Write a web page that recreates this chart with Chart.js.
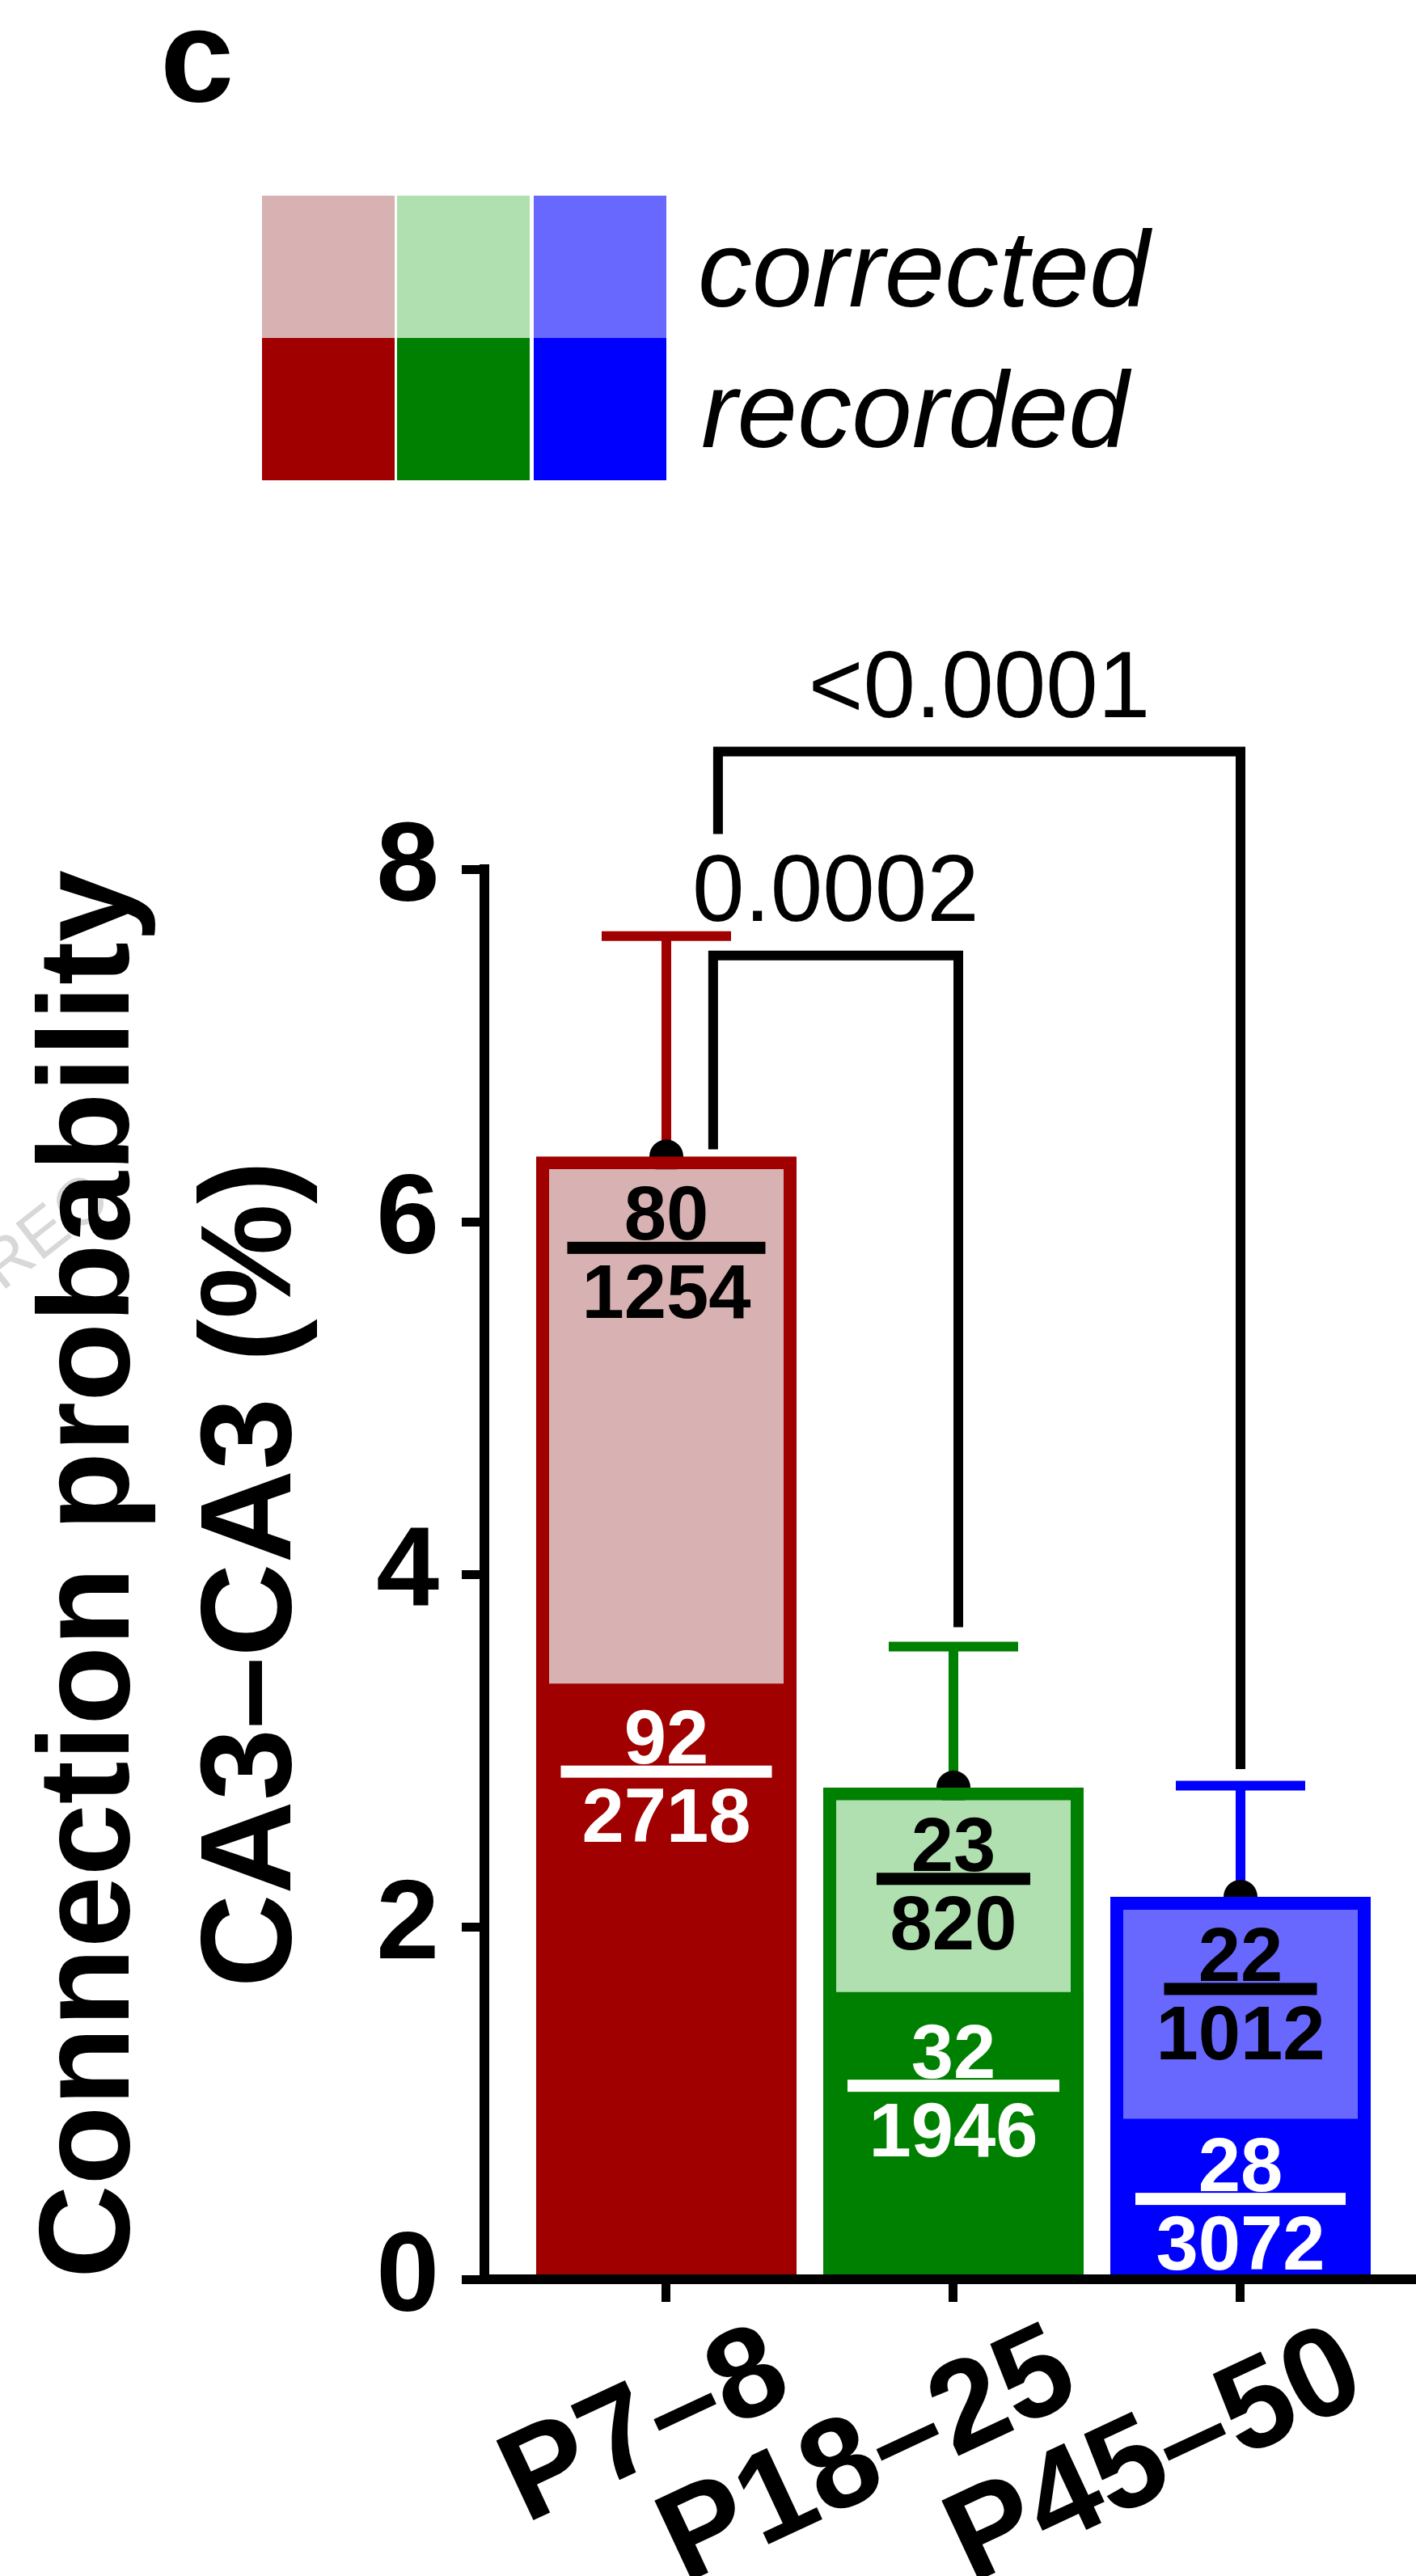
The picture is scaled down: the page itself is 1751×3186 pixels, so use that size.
<!DOCTYPE html>
<html>
<head>
<meta charset="utf-8">
<script src="https://cdn.jsdelivr.net/npm/chart.js"></script>
<style>
  html, body { margin: 0; padding: 0; background: #ffffff; }
  canvas { display: block; }
</style>
</head>
<body>
<canvas id="chart" width="1751" height="3186"></canvas>
<script>
// ---------------- data ----------------
const categories = ['P7–8', 'P18–25', 'P45–50'];
const corrected = [6.37, 2.79, 2.17];          // corrected connection probability (%)
const recorded = [3.38, 1.63, 0.91];           // recorded connection probability (%)
const errorUpper = [7.62, 3.59, 2.80];         // upper end of error bar (%)
const correctedConnected = [80, 23, 22];
const correctedTested = [1254, 820, 1012];
const recordedConnected = [92, 32, 28];
const recordedTested = [2718, 1946, 3072];
const yTicks = [0, 2, 4, 6, 8];
const pValues = ['0.0002', '<0.0001'];
const legendLabels = ['corrected', 'recorded'];
const panelLabel = 'c';
const yTitle = ['Connection probability', 'CA3–CA3 (%)'];
const watermark = 'REC';

// ---------------- styles / layout ----------------
const FONT = '"Liberation Sans", Arial, Helvetica, sans-serif';
const darkColors = ['#a00000', '#008000', '#0000ff'];
const lightColors = ['#d8b2b2', '#b0e0b0', '#6868ff'];
// bracket geometry in data units (x: category index, y: %)
const brackets = [
  { xl: 0.163, xr: 1.017, yTop: 7.51, yl: 6.41, yr: 3.70 },
  { xl: 0.180, xr: 2.000, yTop: 8.667, yl: 8.20, yr: 2.894 }
];
const corrLineW = [245, 190, 189];
const recLineW = [261, 262, 260];
const corrDrop = [113, 113, 114];
const recDrop = [109, 116, 99];

const decor = {
  id: 'decor',
  beforeDraw(chart) {
    const ctx = chart.ctx;
    ctx.save();
    ctx.fillStyle = '#ffffff';
    ctx.fillRect(0, 0, chart.width, chart.height);
    ctx.translate(2, 1598);
    ctx.rotate(-38 * Math.PI / 180);
    ctx.font = `82px ${FONT}`;
    ctx.fillStyle = '#d8d8d8';
    ctx.textBaseline = 'alphabetic';
    ctx.fillText(watermark, 0, 0);
    ctx.restore();
  },
  beforeDatasetsDraw(chart) {
    const ctx = chart.ctx, xs = chart.scales.x, ys = chart.scales.y;
    ctx.save();
    ctx.lineWidth = 12;
    ctx.lineCap = 'butt';
    categories.forEach((c, i) => {
      const x = xs.getPixelForValue(i);
      const yt = ys.getPixelForValue(errorUpper[i]);
      const yb = ys.getPixelForValue(corrected[i]);
      ctx.strokeStyle = darkColors[i];
      ctx.beginPath();
      ctx.moveTo(x, yt); ctx.lineTo(x, yb);
      ctx.moveTo(x - 80, yt); ctx.lineTo(x + 80, yt);
      ctx.stroke();
    });
    ctx.restore();
  },
  afterDatasetsDraw(chart) {
    const ctx = chart.ctx;
    const corrMeta = chart.getDatasetMeta(1);
    const recMeta = chart.getDatasetMeta(0);
    ctx.save();
    ctx.font = `bold 94px ${FONT}`;
    ctx.textAlign = 'center';
    ctx.textBaseline = 'alphabetic';
    const frac = (el, num, den, drop, w, color) => {
      const ly = el.y + drop;
      ctx.fillStyle = color;
      ctx.fillRect(el.x - w / 2, ly - 7.5, w, 15);
      ctx.fillText(String(num), el.x, ly - 10);
      ctx.fillText(String(den), el.x, ly + 87);
    };
    categories.forEach((c, i) => {
      frac(corrMeta.data[i], correctedConnected[i], correctedTested[i], corrDrop[i], corrLineW[i], '#000000');
      frac(recMeta.data[i], recordedConnected[i], recordedTested[i], recDrop[i], recLineW[i], '#ffffff');
    });
    ctx.restore();
  },
  afterDraw(chart) {
    const ctx = chart.ctx, xs = chart.scales.x, ys = chart.scales.y;
    ctx.save();
    // significance brackets
    ctx.strokeStyle = '#000000';
    ctx.lineWidth = 12;
    ctx.lineJoin = 'miter';
    ctx.lineCap = 'butt';
    ctx.fillStyle = '#000000';
    ctx.font = `116px ${FONT}`;
    ctx.textAlign = 'center';
    ctx.textBaseline = 'alphabetic';
    brackets.forEach((b, k) => {
      const xl = xs.getPixelForValue(b.xl), xr = xs.getPixelForValue(b.xr);
      const yt = ys.getPixelForValue(b.yTop);
      ctx.beginPath();
      ctx.moveTo(xl, ys.getPixelForValue(b.yl));
      ctx.lineTo(xl, yt);
      ctx.lineTo(xr, yt);
      ctx.lineTo(xr, ys.getPixelForValue(b.yr));
      ctx.stroke();
      ctx.fillText(pValues[k], (xl + xr) / 2, yt - 43);
    });
    // legend swatches
    const colX = [324, 491, 660];
    categories.forEach((c, i) => {
      ctx.fillStyle = lightColors[i];
      ctx.fillRect(colX[i], 242, 164, 176);
      ctx.fillStyle = darkColors[i];
      ctx.fillRect(colX[i], 418, 164, 176);
    });
    ctx.fillStyle = '#000000';
    ctx.textAlign = 'left';
    ctx.font = `italic 134px ${FONT}`;
    ctx.fillText(legendLabels[0], 863, 379);
    ctx.fillText(legendLabels[1], 867, 553);
    // panel label
    ctx.font = `bold 164px ${FONT}`;
    ctx.fillText(panelLabel, 198, 125);
    ctx.restore();
  }
};

const gridOpts = {
  drawOnChartArea: false, drawTicks: true, tickLength: 28, offset: false,
  tickWidth: 11, tickColor: '#000000', color: '#000000', lineWidth: 11
};

new Chart(document.getElementById('chart'), {
  type: 'bar',
  data: {
    datasets: [
      {
        label: legendLabels[1],
        data: categories.map((c, i) => ({ x: i, y: recorded[i] })),
        backgroundColor: darkColors,
        borderWidth: 0,
        grouped: false,
        categoryPercentage: 1,
        barPercentage: 0.907,
        order: 1
      },
      {
        label: legendLabels[0],
        data: categories.map((c, i) => ({ x: i, y: corrected[i] })),
        backgroundColor: lightColors,
        borderColor: darkColors,
        borderWidth: 16,
        borderSkipped: 'bottom',
        grouped: false,
        categoryPercentage: 1,
        barPercentage: 0.907,
        order: 2
      },
      {
        type: 'scatter',
        label: 'mean',
        data: categories.map((c, i) => ({ x: i, y: corrected[i] })),
        pointRadius: 21,
        pointBackgroundColor: '#000000',
        pointBorderWidth: 0,
        order: 3
      }
    ]
  },
  options: {
    responsive: false,
    animation: false,
    devicePixelRatio: 1,
    layout: { autoPadding: false, padding: { top: 1075, left: 0, right: 0, bottom: 0 } },
    plugins: { legend: { display: false }, tooltip: { enabled: false }, title: { display: false } },
    scales: {
      x: {
        type: 'linear',
        offset: false,
        min: -0.6338,
        max: 2.6113,
        afterBuildTicks: s => { s.ticks = categories.map((c, i) => ({ value: i })); },
        afterFit: s => { s.height = 367; s.paddingLeft = 0; s.paddingRight = 0; },
        grid: gridOpts,
        border: { display: true, color: '#000000', width: 12, z: 1 },
        ticks: {
          autoSkip: false,
          minRotation: 25,
          maxRotation: 25,
          color: '#000000',
          padding: 36,
          labelOffset: 142,
          font: { family: FONT, size: 158, weight: 'bold', lineHeight: 0.6 },
          callback: (v, i) => categories[i]
        }
      },
      y: {
        type: 'linear',
        min: 0,
        max: 8,
        afterBuildTicks: s => { s.ticks = yTicks.map(v => ({ value: v })); },
        afterFit: s => { s.width = 599; },
        grid: gridOpts,
        border: { display: true, color: '#000000', width: 12 },
        ticks: {
          color: '#000000',
          padding: 28,
          font: { family: FONT, size: 140, weight: 'bold' },
          callback: v => String(v)
        },
        title: {
          display: true,
          text: yTitle,
          color: '#000000',
          font: { family: FONT, size: 160, weight: 'bold', lineHeight: 1.25 },
          padding: { top: 15, bottom: 0 }
        }
      }
    }
  },
  plugins: [decor]
});
</script>
</body>
</html>
